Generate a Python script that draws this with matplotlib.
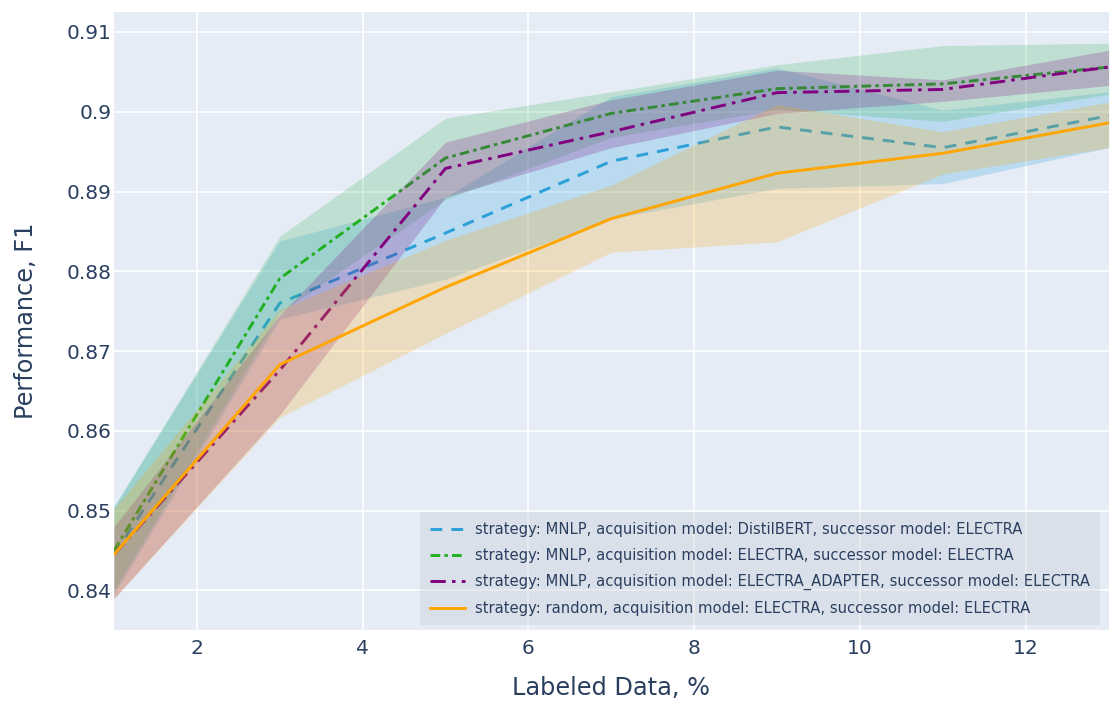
import numpy as np
import matplotlib
matplotlib.use('Agg')
import matplotlib.pyplot as plt
from matplotlib.ticker import FuncFormatter

plt.rcParams['font.family'] = ['DejaVu Sans']
plt.rcParams['lines.scale_dashes'] = False

# labeled data, %
x = [1, 3, 5, 7, 9, 11, 13]

names = ['strategy: MNLP, acquisition model: DistilBERT, successor model: ELECTRA',
         'strategy: MNLP, acquisition model: ELECTRA, successor model: ELECTRA',
         'strategy: MNLP, acquisition model: ELECTRA_ADAPTER, successor model: ELECTRA',
         'strategy: random, acquisition model: ELECTRA, successor model: ELECTRA']

# mean F1 per strategy
distil_mean = [0.8445, 0.8760, 0.8848, 0.8938, 0.8981, 0.8955, 0.8995]
electra_mean = [0.8450, 0.8791, 0.8942, 0.8998, 0.9029, 0.9035, 0.9056]
adapter_mean = [0.8445, 0.8676, 0.8929, 0.8975, 0.9024, 0.9028, 0.9056]
random_mean = [0.8445, 0.8683, 0.8780, 0.8866, 0.8923, 0.8948, 0.8986]

# band upper / lower bounds
distil_hi = [0.8505, 0.8838, 0.8893, 0.9019, 0.9055, 0.9002, 0.9025]
distil_lo = [0.8395, 0.8740, 0.8790, 0.8866, 0.8904, 0.8910, 0.8955]
electra_hi = [0.8505, 0.8844, 0.8992, 0.9025, 0.9059, 0.9083, 0.9086]
electra_lo = [0.8400, 0.8748, 0.8890, 0.8968, 0.9003, 0.8988, 0.9022]
adapter_hi = [0.8480, 0.8745, 0.8962, 0.9015, 0.9052, 0.9040, 0.9077]
adapter_lo = [0.8390, 0.8620, 0.8893, 0.8955, 0.8998, 0.9013, 0.9033]
random_hi = [0.8502, 0.8752, 0.8839, 0.8908, 0.9009, 0.8975, 0.9012]
random_lo = [0.8390, 0.8617, 0.8722, 0.8824, 0.8837, 0.8922, 0.8955]

means = [distil_mean, electra_mean, adapter_mean, random_mean]
his = [distil_hi, electra_hi, adapter_hi, random_hi]
los = [distil_lo, electra_lo, adapter_lo, random_lo]
line_colors = ['#2a9fd8', '#22b022', '#800080', '#ffa500']
fill_colors = ['#1f9ed9', '#3cb45a', '#800080', '#ffa500']
styles = [(0, (8.5, 6.5)),
          (0, (7, 3, 2.5, 3)),
          (0, (11, 4.5, 2.5, 4.5)),
          'solid']

fig = plt.figure(figsize=(11.12, 7.09), dpi=100)
ax = fig.add_axes([0.1025, 0.111, 0.8945, 0.872])
ax.set_facecolor('#e5ecf6')

for i in range(4):
    ax.fill_between(x, los[i], his[i], color=fill_colors[i], alpha=0.22,
                    linewidth=0, zorder=2+i)
    ax.plot(x, means[i], color=line_colors[i], lw=2.1, linestyle=styles[i],
            label=names[i], zorder=2+i)

ax.set_xlim(1, 13)
ax.set_ylim(0.835, 0.9125)
ax.set_xticks([2, 4, 6, 8, 10, 12])
ax.set_yticks([0.84, 0.85, 0.86, 0.87, 0.88, 0.89, 0.9, 0.91])
ax.yaxis.set_major_formatter(FuncFormatter(lambda v, p: '%g' % round(v, 3)))
ax.grid(True, color='white', lw=1.2, zorder=1)
ax.set_axisbelow(True)
for s in ax.spines.values():
    s.set_visible(False)
ax.tick_params(length=0, labelsize=14.5, labelcolor='#2a3f5f')
ax.tick_params(axis='x', pad=6)
ax.tick_params(axis='y', pad=1.5)

ax.set_xlabel('Labeled Data, %', fontsize=17.3, color='#2a3f5f', labelpad=13)
ax.set_ylabel('Performance, F1', fontsize=17.3, color='#2a3f5f', labelpad=21)

leg = ax.legend(loc='lower right', bbox_to_anchor=(0.991, 0.008), borderaxespad=0,
                fontsize=10.6, frameon=True, fancybox=False, handlelength=2.4,
                framealpha=0.35, labelspacing=0.74, borderpad=0.65,
                handletextpad=0.7)
leg.get_frame().set_facecolor((0.78, 0.8, 0.84))
leg.get_frame().set_edgecolor('none')
for t in leg.get_texts():
    t.set_color('#2a3f5f')
leg.set_zorder(10)

fig.savefig('out.png', dpi=100)
